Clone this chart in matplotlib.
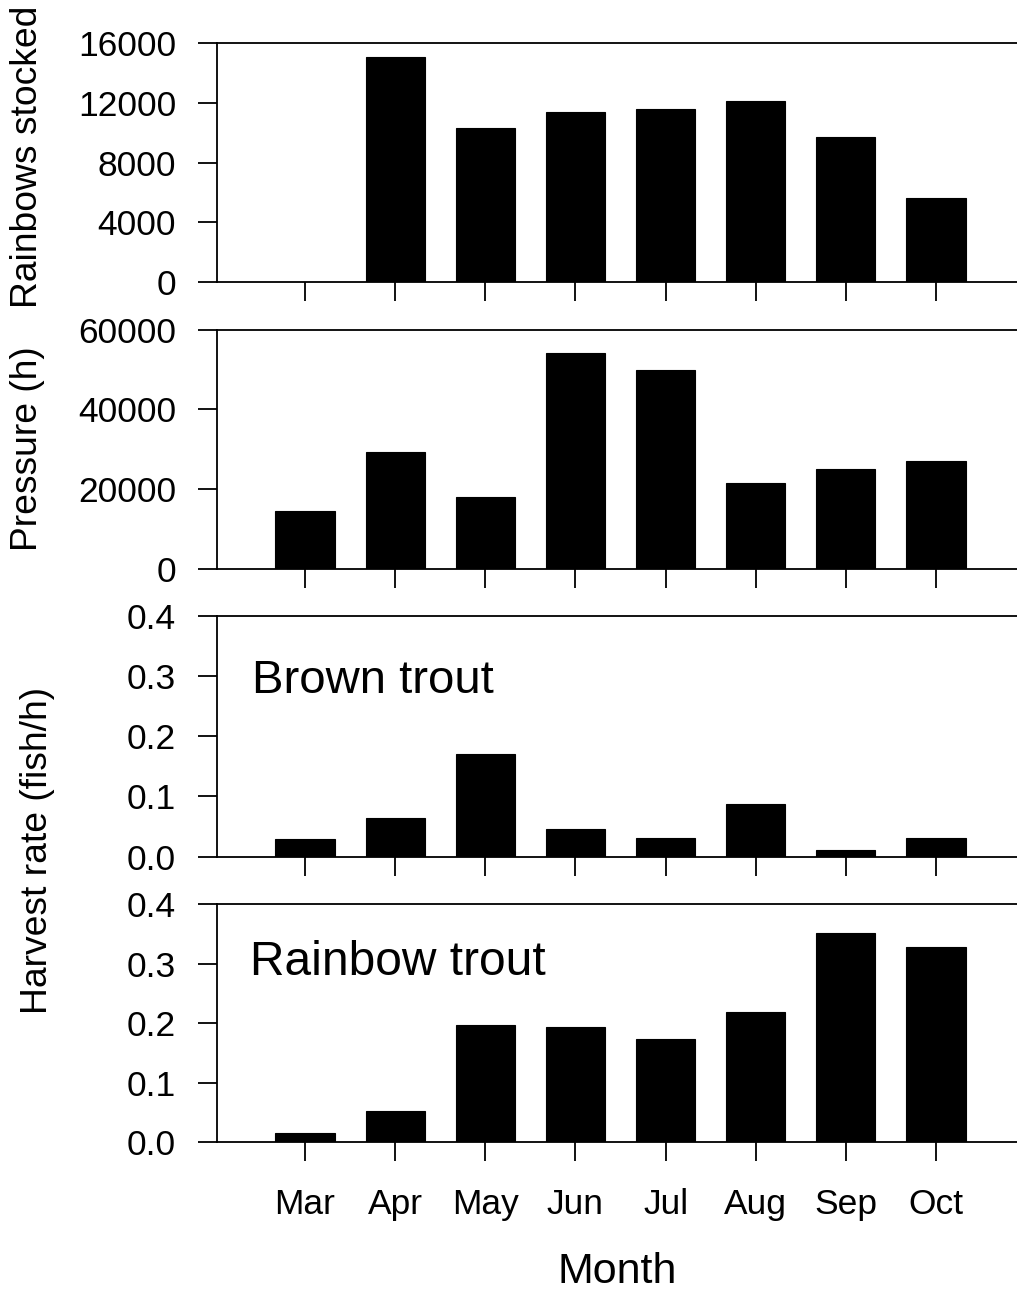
import matplotlib
matplotlib.use("Agg")
import matplotlib.pyplot as plt
import numpy as np

plt.rcParams['font.family'] = ['Liberation Sans', 'DejaVu Sans']

months = ["Mar", "Apr", "May", "Jun", "Jul", "Aug", "Sep", "Oct"]
rainbows_stocked = [0, 15050, 10300, 11400, 11550, 12100, 9700, 5600]
pressure_h = [14400, 29300, 18000, 54100, 49900, 21400, 25000, 27000]
brown_harvest = [0.029, 0.064, 0.171, 0.045, 0.030, 0.087, 0.010, 0.030]
rainbow_harvest = [0.015, 0.053, 0.197, 0.193, 0.173, 0.218, 0.351, 0.328]

W, H = 1017, 1292
fig = plt.figure(figsize=(W / 100, H / 100), dpi=100)

left_px, right_px = 217, 1017
panels = [  # (top_px, bottom_px)
    (43, 282),
    (330, 568.5),
    (616, 856.5),
    (904, 1142.3),
]
data = [rainbows_stocked, pressure_h, brown_harvest, rainbow_harvest]
yticks = [
    [0, 4000, 8000, 12000, 16000],
    [0, 20000, 40000, 60000],
    [0.0, 0.1, 0.2, 0.3, 0.4],
    [0.0, 0.1, 0.2, 0.3, 0.4],
]
ylims = [(0, 16000), (0, 60000), (0, 0.4), (0, 0.4)]
ytlabels = [
    [str(v) for v in yticks[0]],
    [str(v) for v in yticks[1]],
    ["%.1f" % v for v in yticks[2]],
    ["%.1f" % v for v in yticks[3]],
]

x = np.arange(len(months))
spacing = 90.14
mar_px = 305
xlim = ((left_px - mar_px) / spacing, (right_px - mar_px) / spacing)

axes = []
for i, ((tp, bp), vals) in enumerate(zip(panels, data)):
    ax = fig.add_axes([left_px / W, 1 - bp / H, (right_px - left_px) / W, (bp - tp) / H])
    ax.bar(x, vals, width=0.655, color='black', edgecolor='black', linewidth=0.8)
    ax.set_xlim(*xlim)
    ax.set_ylim(*ylims[i])
    ax.set_yticks(yticks[i])
    ax.set_yticklabels(ytlabels[i])
    ax.set_xticks(x)
    if i == 3:
        ax.set_xticklabels(months)
    else:
        ax.set_xticklabels([])
    for s in ['top', 'left', 'bottom']:
        ax.spines[s].set_linewidth(1.3)
        ax.spines[s].set_color('black')
    ax.spines['right'].set_visible(False)
    ax.tick_params(axis='y', direction='out', length=13.5, width=1.3, pad=16, labelsize=25.5)
    ax.tick_params(axis='x', direction='out', length=14, width=1.3, pad=19, labelsize=25.5)
    axes.append(ax)

axes[2].text(0.044, 0.68, "Brown trout", transform=axes[2].transAxes,
             fontsize=34, ha='left', va='baseline')
axes[3].text(0.041, 0.702, "Rainbow trout", transform=axes[3].transAxes,
             fontsize=34.5, ha='left', va='baseline')

fig.text(28 / W, 1 - 157 / H, "Rainbows stocked", rotation=90, fontsize=26.8,
         ha='center', va='center')
fig.text(28 / W, 1 - 449 / H, "Pressure (h)", rotation=90, fontsize=26.8,
         ha='center', va='center')
fig.text(38 / W, 1 - 851 / H, "Harvest rate (fish/h)", rotation=90, fontsize=26.8,
         ha='center', va='center')
fig.text(617 / W, 1 - 1272 / H, "Month", fontsize=31, ha='center', va='center')

fig.savefig("out.png", dpi=100, facecolor='white')
